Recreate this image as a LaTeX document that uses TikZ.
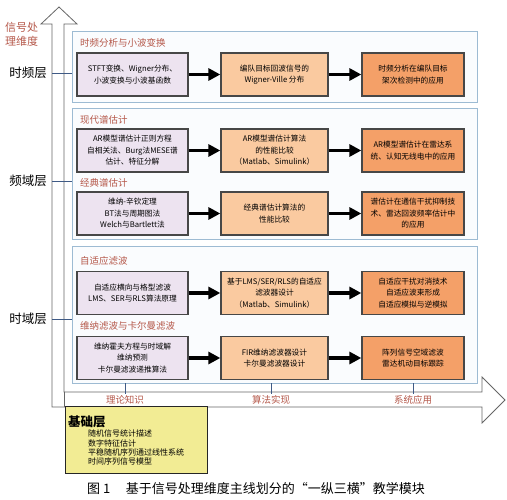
\documentclass[tikz,border=0pt]{standalone}
\usepackage{fontspec}
\setmainfont{Noto Sans CJK SC}
\usetikzlibrary{arrows.meta}
\definecolor{titlered}{HTML}{B5584A}
\definecolor{lavender}{HTML}{EDE3F0}
\definecolor{peach}{HTML}{FACAA0}
\definecolor{orangebox}{HTML}{F4A068}
\definecolor{panelblue}{HTML}{9DBBD3}
\definecolor{panelfill}{HTML}{FAFCFE}
\definecolor{linkblue}{HTML}{3F5A85}
\definecolor{basefill}{HTML}{F2EC94}
\begin{document}
\begin{tikzpicture}[x=1pt, y=-1pt,
	panel/.style={draw=panelblue, fill=panelfill, line width=0.9pt, minimum width=405pt, inner sep=0pt},
	theory/.style={draw=black!72, line width=1.3pt, fill=lavender, minimum width=111pt, minimum height=43pt,
		inner sep=2pt, align=center, font=\fontsize{7.7}{11.5}\selectfont},
	algo/.style={theory, fill=peach, minimum width=107pt},
	app/.style={theory, fill=orangebox, minimum width=102pt},
	group/.style={anchor=west, text=titlered, inner sep=0pt, font=\fontsize{9.5}{11}\selectfont},
	layer/.style={anchor=east, inner sep=0pt, font=\fontsize{12.5}{14}\selectfont},
	stage/.style={text=titlered, inner sep=1pt, font=\fontsize{9.5}{11}\selectfont},
	dimtext/.style={anchor=west, inner sep=0pt, text=titlered, font=\fontsize{11}{13}\selectfont},
	item/.style={anchor=west, inner sep=0pt, font=\fontsize{8}{9}\selectfont},
	flow/.style={-{Triangle[length=12pt, width=12pt]}, line width=3.4pt},
	]
	\useasboundingbox (0,0) rectangle (507,500);
	\draw[gray!80!black, fill=white, line width=0.8pt] (52,407) -- (52,24) -- (41,24) -- (59,7) -- (77,24) -- (64,24) -- (64,392)
		-- (482,392) -- (482,377) -- (505,400) -- (482,423) -- (482,407) -- cycle;
	\draw[gray!80!black, line width=0.8pt] (64,392) -- (64,407);
	\node[dimtext] (dim1) at (5,27) {信号处};
	\node[dimtext] (dim2) at (5,41) {理维度};

	\node[panel, minimum height=71pt] (p1) at (274.5,66.5) {};
	\node[panel, minimum height=131pt] (p2) at (274.5,173.5) {};
	\node[panel, minimum height=137pt] (p3) at (274.5,314.5) {};

	\node[layer] (L1) at (47,73) {时频层};
	\node[layer] (L2) at (47,181) {频域层};
	\node[layer] (L3) at (47,319) {时域层};
	\foreach \i in {1,2,3}
		\draw[linkblue, line width=0.8pt, shorten <=5pt] (L\i) -- (L\i -| p\i.west);

	\node[group] (g1) at (80,43) {时频分析与小波变换};
	\node[group] (g2) at (80,120) {现代谱估计};
	\node[group] (g3) at (80,183) {经典谱估计};
	\node[group] (g4) at (80,261) {自适应滤波};
	\node[group] (g5) at (80,326) {维纳滤波与卡尔曼滤波};

	\node[theory] (tf1) at (132.5,74.5) {STFT变换、Wigner分布、\\小波变换与小波基函数};
	\node[algo] (tf2) at (274.5,74.5) {编队目标回波信号的\\Wigner-Ville 分布};
	\node[app] (tf3) at (413,74.5) {时频分析在编队目标\\架次检测中的应用};

	\node[theory] (ar1) at (132.5,150.5) {AR模型谱估计正则方程\\自相关法、Burg法MESE谱\\估计、特征分解};
	\node[algo] (ar2) at (274.5,150.5) {AR模型谱估计算法\\的性能比较\\（Matlab、Simulink）};
	\node[app] (ar3) at (413,150.5) {AR模型谱估计在雷达系\\统、认知无线电中的应用};

	\node[theory] (cl1) at (132.5,213.5) {维纳-辛钦定理\\BT法与周期图法\\Welch与Bartlett法};
	\node[algo] (cl2) at (274.5,213.5) {经典谱估计算法的\\性能比较};
	\node[app] (cl3) at (413,213.5) {谱估计在通信干扰抑制技\\术、雷达回波频率估计中\\的应用};

	\node[theory] (ad1) at (132.5,293) {自适应横向与格型滤波\\LMS、SER与RLS算法原理};
	\node[algo] (ad2) at (274.5,293) {基于LMS/SER/RLS的自适应\\滤波器设计\\（Matlab、Simulink）};
	\node[app] (ad3) at (413,293) {自适应干扰对消技术\\自适应波束形成\\自适应模拟与逆模拟};

	\node[theory] (wk1) at (132.5,358) {维纳霍夫方程与时域解\\维纳预测\\卡尔曼滤波递推算法};
	\node[algo] (wk2) at (274.5,358) {FIR维纳滤波器设计\\卡尔曼滤波器设计};
	\node[app] (wk3) at (413,358) {阵列信号空域滤波\\雷达机动目标跟踪};

	\foreach \r in {tf,ar,cl,ad,wk} {
		\draw[flow] (\r1) -- (\r2);
		\draw[flow] (\r2) -- (\r3);
	}

	\node[stage] (k1) at (125,400) {理论知识};
	\node[stage] (k2) at (271,400) {算法实现};
	\node[stage] (k3) at (413,400) {系统应用};
	\foreach \i in {1,2,3}
		\draw[linkblue, line width=1pt] (k\i |- p3.south) -- (k\i.north);

	\draw[black!85, line width=1pt, fill=basefill] (65,407) rectangle (207,473);
	\node[anchor=west, inner sep=0pt, font=\bfseries\fontsize{12.5}{14}\selectfont] (b0) at (68,422) {基础层};
	\foreach \t [count=\i] in {随机信号统计描述, 数字特征估计, 平稳随机序列通过线性系统, 时间序列信号模型}
		\node[item] (b\i) at (88,424.5+9.3*\i) {\t};

	\node[font=\fontsize{13}{15}\selectfont] (cap) at (256,489) {图 1\hspace{1.2em}基于信号处理维度主线划分的“一纵三横”教学模块};
\end{tikzpicture}
\end{document}
